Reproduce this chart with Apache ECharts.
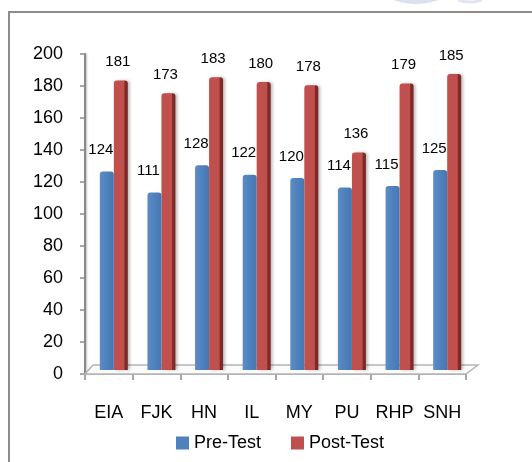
<!DOCTYPE html>
<html>
<head>
<meta charset="utf-8">
<style>
  html, body { margin: 0; padding: 0; background: #fff; }
  #chart { width: 532px; height: 462px; }
</style>
<script src="https://cdn.jsdelivr.net/npm/echarts@6/dist/echarts.min.js"></script>
</head>
<body>
<div id="chart"></div>
<script>
// Test scores per group
const categories = ['EIA', 'FJK', 'HN', 'IL', 'MY', 'PU', 'RHP', 'SNH'];
const preTest = [124, 111, 128, 122, 120, 114, 115, 125];
const postTest = [181, 173, 183, 180, 178, 136, 179, 185];
const seriesNames = ['Pre-Test', 'Post-Test'];

const FONT = '"Liberation Sans", Arial, sans-serif';
const BLUE = '#4F81BD';
const RED = '#C0504D';

// Bars are drawn in a second grid nudged up/right to give the 3D depth look
const axisGrid = { left: 85, right: 66, top: 54, bottom: 88 };
const barGrid = { left: 90, right: 61, top: 50, bottom: 92 };

const chart = echarts.init(document.getElementById('chart'), null, { renderer: 'canvas' });

function shade(base, dark) {
  return new echarts.graphic.LinearGradient(0, 0, 1, 0, [
    { offset: 0, color: base },
    { offset: 0.72, color: base },
    { offset: 0.8, color: dark },
    { offset: 1, color: dark }
  ]);
}

const option = {
  animation: false,
  backgroundColor: '#fff',
  textStyle: { fontFamily: FONT },
  grid: [
    Object.assign({ containLabel: false }, axisGrid),
    Object.assign({ containLabel: false }, barGrid)
  ],
  legend: {
    data: [
      { name: seriesNames[0], itemStyle: { color: BLUE } },
      { name: seriesNames[1], itemStyle: { color: RED } }
    ],
    left: 171,
    top: 429,
    itemWidth: 13,
    itemHeight: 13,
    itemGap: 30,
    icon: 'rect',
    textStyle: { fontSize: 18, color: '#000', fontFamily: FONT }
  },
  xAxis: [
    {
      gridIndex: 0,
      type: 'category',
      data: categories,
      axisLine: { show: true, lineStyle: { color: '#9a9a9a', width: 1.5 } },
      axisTick: { show: true, length: 6, lineStyle: { color: '#8a8a8a', width: 1.5 } },
      axisLabel: { fontSize: 18, color: '#000', margin: 30, fontFamily: FONT, interval: 0 },
      splitLine: { show: false }
    },
    {
      gridIndex: 1,
      type: 'category',
      data: categories,
      show: false
    }
  ],
  yAxis: [
    {
      gridIndex: 0,
      type: 'value',
      min: 0,
      max: 200,
      interval: 20,
      axisLine: { show: true, lineStyle: { color: '#8a8a8a', width: 2, shadowColor: 'rgba(0,0,0,0.25)', shadowBlur: 2, shadowOffsetX: 1 } },
      axisTick: { show: true, length: 5, lineStyle: { color: '#8a8a8a', width: 1.5 } },
      axisLabel: { fontSize: 18, color: '#000', margin: 22, fontFamily: FONT },
      splitLine: { show: false }
    },
    {
      gridIndex: 1,
      type: 'value',
      min: 0,
      max: 200,
      interval: 20,
      show: false
    }
  ],
  series: [
    {
      name: seriesNames[0],
      type: 'bar',
      xAxisIndex: 1,
      yAxisIndex: 1,
      data: preTest,
      barWidth: 14,
      barGap: '0%',
      itemStyle: {
        color: new echarts.graphic.LinearGradient(0, 0, 1, 0, [
          { offset: 0, color: '#5b8cc6' },
          { offset: 0.5, color: BLUE },
          { offset: 1, color: '#4677b2' }
        ]),
        borderRadius: [3, 3, 0, 0]
      },
      label: {
        show: true,
        position: 'top',
        distance: 5,
        offset: [-6, -9],
        fontSize: 15,
        color: '#000',
        fontFamily: FONT
      },
      z: 3
    },
    {
      name: seriesNames[1],
      type: 'bar',
      xAxisIndex: 1,
      yAxisIndex: 1,
      data: postTest,
      barWidth: 14,
      barGap: '0%',
      itemStyle: {
        color: shade(RED, '#7d2927'),
        borderRadius: [3, 3, 0, 0],
        shadowColor: 'rgba(0,0,0,0.25)',
        shadowBlur: 3,
        shadowOffsetX: 2
      },
      label: {
        show: true,
        position: 'top',
        distance: 5,
        offset: [-3, -6],
        fontSize: 15,
        color: '#000',
        fontFamily: FONT
      },
      z: 2
    }
  ]
};

chart.setOption(option);

// Outer frame, chart floor and the faint emblem edge at the top
const left = axisGrid.left;
const right = 532 - axisGrid.right;
const floorY = 462 - axisGrid.bottom;
const depthX = 12, depthY = 9;

chart.setOption({
  graphic: [
    {
      type: 'rect',
      shape: { x: 9, y: 12, width: 600, height: 500 },
      style: { fill: 'none', stroke: '#8c8c8c', lineWidth: 2 },
      z: 0,
      silent: true
    },
    {
      type: 'polygon',
      shape: {
        points: [
          [left, floorY],
          [right, floorY],
          [right + depthX, floorY - depthY],
          [left + depthX - 4, floorY - depthY]
        ]
      },
      style: { fill: '#fbfbfb', stroke: '#b5b5b5', lineWidth: 1.5 },
      z: 1,
      silent: true
    },
    {
      type: 'arc',
      shape: { cx: 416, cy: -60, r: 62, startAngle: Math.PI * 0.35, endAngle: Math.PI * 0.65 },
      style: { stroke: '#dcdff0', lineWidth: 4, fill: 'none' },
      silent: true
    },
    {
      type: 'arc',
      shape: { cx: 470, cy: -30, r: 32, startAngle: Math.PI * 0.38, endAngle: Math.PI * 0.62 },
      style: { stroke: '#e2e4f2', lineWidth: 3, fill: 'none' },
      silent: true
    }
  ]
});
</script>
</body>
</html>
